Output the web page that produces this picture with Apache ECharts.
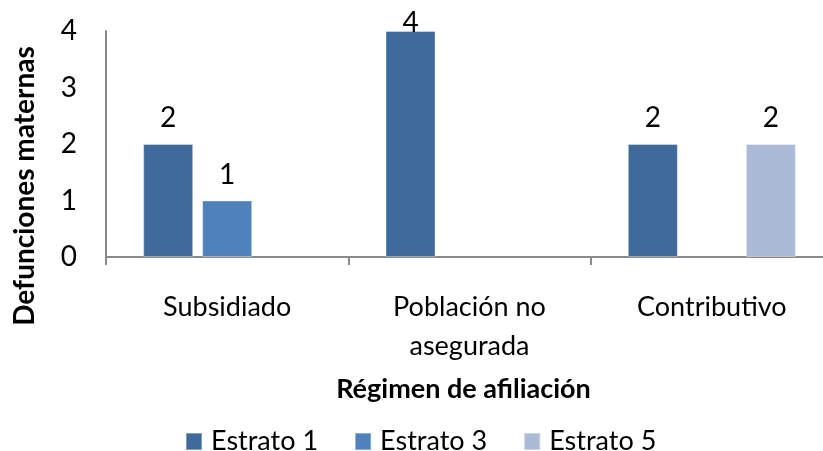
<!DOCTYPE html>
<html>
<head>
<meta charset="utf-8">
<script src="https://cdn.jsdelivr.net/npm/echarts@6/dist/echarts.min.js"></script>
<style>
  html, body { margin: 0; padding: 0; background: #fff; overflow: hidden; }
  #chart { width: 845px; height: 451px; }
</style>
</head>
<body>
<div id="chart"></div>
<script>
// Maternal deaths by affiliation regime and socioeconomic stratum
const categories = ['Subsidiado', 'Población no\nasegurada', 'Contributivo'];
const seriesNames = ['Estrato 1', 'Estrato 3', 'Estrato 5'];
const estrato1 = [2, 4, 2];
const estrato3 = [1, null, null];
const estrato5 = [null, null, 2];
const yTicks = [0, 1, 2, 3, 4];

const colors = ['#3F6A9C', '#4F81BD', '#AABAD7'];
const FONT = 'Lato';
const yMax = yTicks[yTicks.length - 1];

// A label at the top of the value range is pulled down so it stays inside the plot
function withLabels(values) {
  return values.map(v => {
    if (v === null) return null;
    if (v >= yMax) {
      return { value: v, label: { distance: -6 } };
    }
    return v;
  });
}

const seriesData = [estrato1, estrato3, estrato5];

const chart = echarts.init(document.getElementById('chart'), null, { renderer: 'canvas' });
chart.setOption({
  animation: false,
  textStyle: { fontFamily: FONT },
  grid: { left: 106, top: 31, width: 727, bottom: 194, containLabel: false },
  legend: {
    data: seriesNames,
    top: 423,
    left: 180,
    itemWidth: 16,
    itemHeight: 17,
    itemGap: 36,
    icon: 'rect',
    textStyle: { fontFamily: FONT, fontSize: 27, color: '#000', padding: [0, 0, 0, 4] }
  },
  xAxis: {
    type: 'category',
    data: categories,
    name: 'Régimen de afiliación',
    nameLocation: 'middle',
    nameGap: 119,
    nameTextStyle: { fontFamily: FONT, fontSize: 27, fontWeight: 'bold', color: '#000', padding: [0, 12, 0, 0] },
    axisLine: { lineStyle: { color: '#8A8A8A', width: 2 } },
    axisTick: { show: true, length: 8, lineStyle: { color: '#8A8A8A', width: 2 } },
    axisLabel: { fontFamily: FONT, fontSize: 27, color: '#000', margin: 31, lineHeight: 39 }
  },
  yAxis: {
    type: 'value',
    min: yTicks[0],
    max: yMax,
    interval: 1,
    axisLine: { show: true, lineStyle: { color: '#8A8A8A', width: 2 } },
    axisTick: { show: false },
    splitLine: { show: false },
    axisLabel: { fontFamily: FONT, fontSize: 28, color: '#000', margin: 29 }
  },
  graphic: [{
    type: 'text',
    x: 25,
    y: 186,
    rotation: Math.PI / 2,
    style: {
      text: 'Defunciones maternas',
      font: 'bold 28px ' + FONT,
      fill: '#000',
      textAlign: 'center',
      textVerticalAlign: 'middle'
    }
  }],
  series: seriesNames.map((name, i) => ({
    name: name,
    type: 'bar',
    data: withLabels(seriesData[i]),
    barWidth: 50,
    barGap: '18%',
    itemStyle: { color: colors[i], borderColor: 'rgba(255,255,255,0.35)', borderWidth: 1 },
    label: {
      show: true,
      position: 'top',
      distance: 12,
      fontFamily: FONT,
      fontSize: 28,
      color: '#000'
    }
  }))
});
</script>
</body>
</html>
